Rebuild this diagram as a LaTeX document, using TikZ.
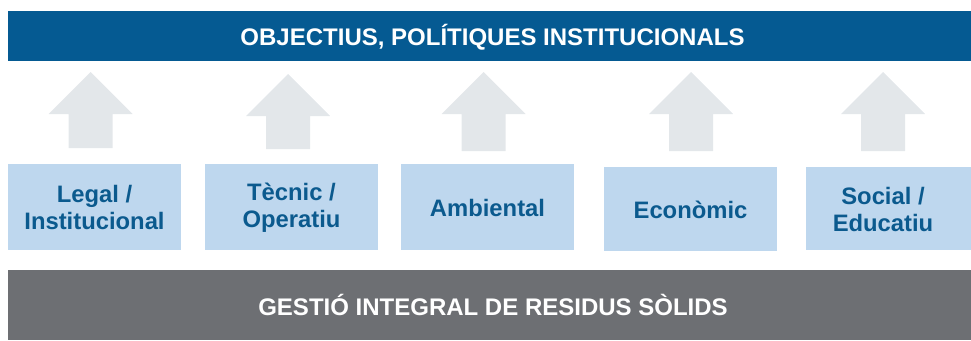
\documentclass[tikz,border=0pt]{standalone}
\usepackage{fontspec}
\setmainfont{Liberation Sans}
\definecolor{topblue}{HTML}{055A92}
\definecolor{boxblue}{HTML}{BED7EE}
\definecolor{boxtext}{HTML}{0B5A8E}
\definecolor{bargray}{HTML}{6D6F73}
\definecolor{arrowgray}{HTML}{E3E7EA}
\begin{document}
\begin{tikzpicture}[x=1pt,y=-1pt,
  bartext/.style={text=white,font=\fontsize{24}{28}\selectfont\bfseries},
  catbox/.style={fill=boxblue,draw=none,inner sep=0pt},
  cattext/.style={text=boxtext,align=center,font=\fontsize{23.8}{27}\selectfont\bfseries},
  uparrow/.style={fill=arrowgray,draw=none}]
\useasboundingbox (0,0) rectangle (971,340);
% top bar
\fill[topblue] (8,11) rectangle (971,61);
\node[bartext] (top) at (492.5,37) {OBJECTIUS, POLÍTIQUES INSTITUCIONALS};
% bottom bar
\fill[bargray] (8,270) rectangle (971,340);
\node[bartext] (bottom) at (493,305) {GESTIÓ INTEGRAL DE RESIDUS SÒLIDS};
% boxes
\fill[catbox] (8,164) rectangle (181,250);
\node[cattext] (legal) at (94.5,207.5) {Legal /\\Institucional};
\fill[catbox] (205,164) rectangle (378,250);
\node[cattext] (tecnic) at (291.5,207.5) {Tècnic /\\Operatiu};
\fill[catbox] (401,164) rectangle (574,250);
\node[cattext] (amb) at (487.5,208) {Ambiental};
\fill[catbox] (604,167) rectangle (777,251);
\node[cattext] (eco) at (690.5,209.5) {Econòmic};
\fill[catbox] (806,167) rectangle (971,250);
\node[cattext] (soc) at (883,209) {Social /\\Educatiu};
% block arrows
\foreach \cx/\tip/\base/\bot in {90.5/72/114/148, 288/74/116/149, 483.5/72/114/151, 691/72/114/151, 883/72/114/151}{
  \fill[uparrow] (\cx,\tip) -- (\cx+42,\base) -- (\cx+22,\base) -- (\cx+22,\bot)
    -- (\cx-22,\bot) -- (\cx-22,\base) -- (\cx-42,\base) -- cycle;
}
\end{tikzpicture}
\end{document}
